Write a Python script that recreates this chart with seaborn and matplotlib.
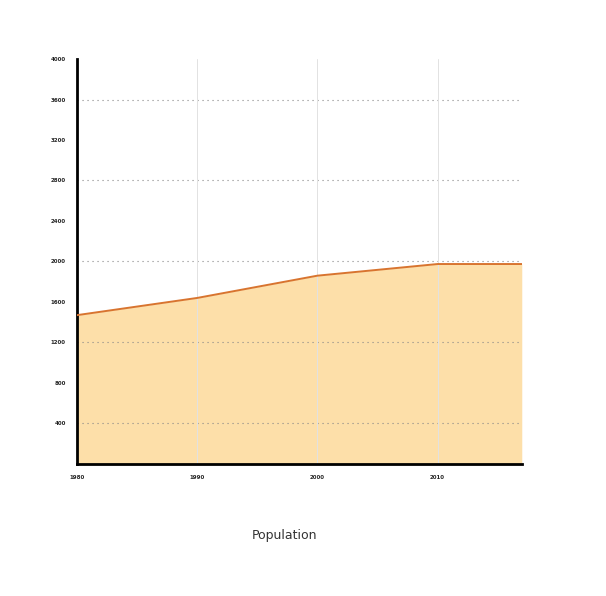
import numpy as np
import matplotlib
matplotlib.use('Agg')
import matplotlib.pyplot as plt
import seaborn as sns
import pandas as pd

years = [1980, 1990, 2000, 2010, 2017]
population = [1470, 1640, 1860, 1975, 1975]
y_ticks = [400, 800, 1200, 1600, 2000, 2400, 2800, 3200, 3600, 4000]
dotted_rows = [400, 1200, 2000, 2800, 3600]
x_ticks = [1980, 1990, 2000, 2010]

sns.set_theme(style='white')
plt.rcParams['font.family'] = ['DejaVu Sans']

df = pd.DataFrame({'year': years, 'population': population})

fig = plt.figure(figsize=(6.06, 5.96), dpi=100)
ax = fig.add_axes([0.127, 0.2215, 0.734, 0.6795])

ax.fill_between(df['year'], df['population'], 0, color='#fddfa9', lw=0, zorder=1)
sns.lineplot(data=df, x='year', y='population', ax=ax, color='#d8742f', lw=1.4, zorder=3)

for v in dotted_rows:
    ax.axhline(v, color='#888888', lw=0.8, ls=(0, (1, 3.5)), zorder=2)
for v in x_ticks[1:]:
    ax.axvline(v, color='#e2e2e2', lw=0.7, zorder=2)

ax.set_xlim(1980, 2017)
ax.set_ylim(0, 4000)
ax.set_yticks(y_ticks)
ax.set_yticklabels([str(v) for v in y_ticks], fontsize=4, fontweight='bold')
ax.set_xticks(x_ticks)
ax.set_xticklabels([str(v) for v in x_ticks], fontsize=4, fontweight='bold')
ax.tick_params(length=0, pad=8)

for s in ['top', 'right']:
    ax.spines[s].set_visible(False)
for s in ['left', 'bottom']:
    ax.spines[s].set_color('black')
    ax.spines[s].set_linewidth(2)

ax.set_ylabel('')
ax.set_xlabel('Population', fontsize=9, color='#333333')
ax.xaxis.set_label_coords(0.466, -0.16)

plt.savefig('out.png', dpi=100)
